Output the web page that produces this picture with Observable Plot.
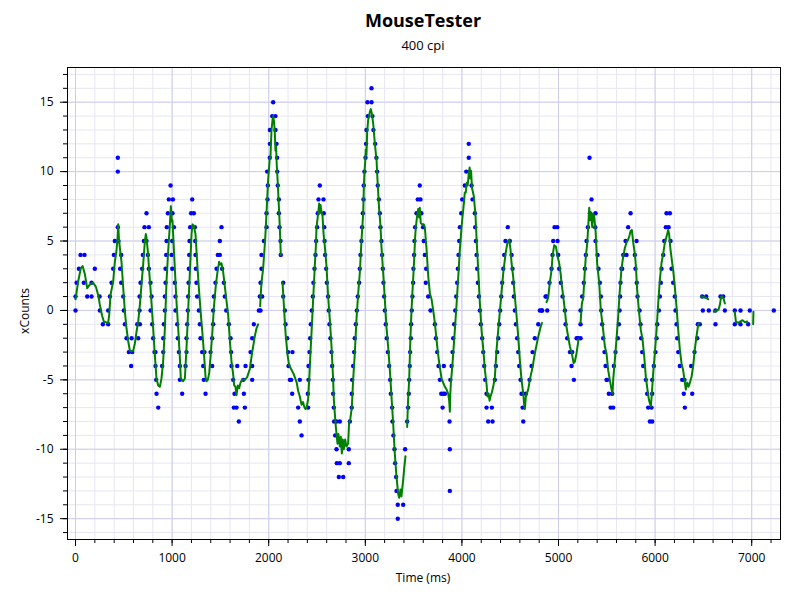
<!DOCTYPE html>
<html><head><meta charset="utf-8">
<script src="https://cdn.jsdelivr.net/npm/d3@7"></script>
<script src="https://cdn.jsdelivr.net/npm/@observablehq/plot@0.6"></script>
<style>
body{margin:0;background:#fff;font-family:"Open Sans",sans-serif;}
#wrap{position:relative;width:800px;height:600px;overflow:hidden;}
.t{position:absolute;white-space:nowrap;color:#000;line-height:1;transform:translate(-50%,-50%);}
#chart{position:absolute;left:0;top:0;}
</style></head><body>
<div id="wrap">
<div id="chart"></div>
<div class="t" style="left:423px;top:20px;font-weight:bold;font-size:18px;">MouseTester</div>
<div class="t" style="left:423px;top:45px;font-size:13px;">400 cpi</div>
<div class="t" style="left:423px;top:578px;font-size:12px;">Time (ms)</div>
<div class="t" style="left:25px;top:311px;font-size:12px;transform:translate(-50%,-50%) rotate(-90deg);">xCounts</div>
</div>
<script>
// ---- data: [time ms, xCounts] raw samples (blue dots) ----
const samples = [
[0,0],[0,1],[11,2],[35,3],[52,4],[86,2],[93,4],[121,1],[166,1],[166,2],[200,3],[249,1],[252,0],[283,-1],[338,-1],[338,0],[356,1],[373,2],[390,3],[397,4],[407,5],[438,6],[438,10],[438,11],[445,5],[462,3],[473,4],[473,2],[494,1],[500,0],[511,-1],[528,-2],[552,-3],[576,-4],[580,-2],[587,-3],[639,-1],[649,-2],[663,0],[663,1],[666,-1],[673,2],[690,3],[697,4],[708,5],[714,6],[735,7],[735,5],[749,4],[759,6],[759,3],[776,2],[777,0],[787,1],[794,-1],[804,-2],[818,-3],[828,-3],[828,-4],[835,-5],[839,-6],[856,-7],
[897,-4],[908,-3],[908,-2],[915,-1],[925,0],[925,1],[932,2],[932,3],[939,4],[942,5],[945,6],[956,7],[966,8],[984,9],[1008,8],[1004,7],[1018,6],[1001,5],[994,4],[1001,3],[1028,2],[1035,1],[1035,0],[1053,-1],[1059,-2],[1070,-3],[1080,-4],[1080,-5],[1104,-6],
[1139,-4],[1149,-3],[1149,-2],[1156,-1],[1163,0],[1166,1],[1170,2],[1173,3],[1177,4],[1180,5],[1187,6],[1197,7],[1208,8],[1225,7],[1235,6],[1239,5],[1242,4],[1246,3],[1252,2],[1259,1],[1277,0],[1287,-1],[1294,-2],[1311,-3],[1322,-4],[1328,-5],[1335,-3],[1346,-6],
[1398,-3],[1415,-4],[1415,-2],[1425,-1],[1425,0],[1432,1],[1449,2],[1460,3],[1473,4],[1494,4],[1494,5],[1511,6],[1518,3],[1536,2],[1546,1],[1560,0],[1587,-1],[1605,-2],[1611,-3],[1615,-4],[1632,-5],[1639,-7],[1646,-6],[1667,-7],[1674,-4],[1691,-8],[1736,-5],[1743,-6],[1753,-7],[1760,-4],[1812,-3],[1829,-2],[1829,-4],[1829,-5],[1846,-1],[1898,0],[1915,0],
[1908,1],[1915,2],[1925,3],[1925,4],[1932,1],[1950,5],[1977,6],[1977,7],[1987,8],[1991,9],[1984,10],[2011,11],[2012,12],[2012,13],[2036,14],[2046,15],[2070,14],[2070,13],[2081,12],[2087,11],[2088,10],[2094,9],[2105,8],[2105,7],[2112,6],[2122,5],[2125,4],[2150,2],[2150,1],
[2167,0],[2174,-1],[2191,-2],[2201,-3],[2205,-4],[2219,-5],[2232,-5],[2243,-6],[2246,-3],[2305,-7],[2322,-8],[2322,-5],[2340,-9],[2405,-6],[2408,-7],[2412,-5],[2412,-4],[2422,-3],[2429,-2],[2436,-1],[2446,0],
[2457,1],[2463,2],[2474,3],[2484,4],[2491,5],[2501,6],[2508,7],[2515,8],[2529,9],[2567,8],[2570,7],[2574,6],[2578,5],[2584,4],[2595,3],[2602,2],[2615,1],[2622,0],[2629,-1],[2639,-2],[2650,-3],[2657,-4],[2664,-5],[2667,-6],[2674,-7],[2677,-8],[2688,-9],[2702,-10],[2705,-11],[2702,-8],[2726,-12],[2736,-8],[2736,-11],[2771,-12],[2829,-11],[2829,-10],[2840,-8],[2860,-7],[2860,-6],
[2864,-5],[2874,-4],[2884,-3],[2891,-2],[2902,-1],[2912,0],[2922,1],[2936,2],[2943,3],[2950,4],[2960,5],[2967,6],[2974,7],[2981,8],[2984,9],[2991,10],[3002,11],[3008,12],[3012,13],[3026,14],[3022,15],[3064,15],[3064,16],[3074,14],[3084,13],[3102,12],[3115,11],[3122,10],[3129,9],[3140,8],[3150,7],[3157,6],[3167,5],[3174,4],[3181,3],[3188,2],[3195,1],[3202,0],[3212,-1],[3222,-2],[3233,-3],[3247,-4],[3257,-5],[3264,-6],[3278,-7],[3281,-8],[3291,-9],[3302,-10],[3309,-11],[3319,-12],[3323,-13],[3336,-14],[3336,-15],[3392,-14],[3412,-10],
[3433,-8],[3443,-7],[3450,-6],[3454,-5],[3460,-4],[3464,-3],[3471,-2],[3474,-1],[3481,0],[3488,1],[3495,2],[3498,3],[3505,4],[3509,5],[3516,6],[3530,7],[3543,8],[3571,8],[3564,9],[3580,7],[3598,6],[3605,5],[3616,4],[3626,2],[3630,3],
[3651,1],[3675,0],[3720,-1],[3731,-2],[3744,-3],[3758,-4],[3772,-5],[3786,-6],[3800,-7],[3807,-6],[3813,-4],[3824,-6],[3872,-8],[3875,-10],[3875,-13],[3880,-5],[3893,-4],[3903,-3],[3910,-2],[3920,-1],[3931,0],[3941,1],[3951,2],[3958,3],[3965,4],[3972,5],[3979,6],[3993,7],[4003,8],[4030,9],[4045,10],[4071,11],[4071,12],[4082,10],[4100,9],[4110,8],[4134,7],[4138,6],[4145,5],[4152,4],[4158,3],[4165,2],[4176,1],[4186,0],[4196,-1],[4210,-2],[4221,-3],[4231,-4],[4241,-5],[4255,-6],[4255,-7],[4272,-8],[4310,-7],[4317,-8],
[4341,-5],[4352,-4],[4365,-3],[4376,-2],[4386,-1],[4396,0],[4407,1],[4417,2],[4428,3],[4438,4],[4451,5],[4475,6],[4496,5],[4514,4],[4524,3],[4531,2],[4538,1],[4548,0],[4559,-1],[4572,-2],[4583,-3],[4593,-4],[4607,-5],[4617,-6],[4628,-7],[4635,-8],[4662,-6],[4700,-5],[4721,-4],[4731,-3],[4755,-2],[4790,-1],[4807,0],[4824,0],[4831,0],[4866,1],[4876,1],
[4883,0],[4907,2],[4928,3],[4938,4],[4945,5],[4959,6],[4987,6],[4990,5],[4997,4],[5007,3],[5024,2],[5042,1],[5066,0],[5073,-1],[5090,-2],[5118,-3],[5142,-3],[5135,-4],[5159,-5],[5187,-2],[5204,-2],[5228,-2],[5228,-1],[5228,0],
[5245,1],[5262,2],[5273,3],[5283,4],[5290,5],[5304,6],[5321,11],[5325,7],[5342,8],[5383,7],[5380,6],[5383,5],[5404,4],[5414,3],[5428,2],[5439,1],[5442,0],[5452,-1],[5463,-2],[5476,-3],[5487,-4],[5497,-5],[5504,-5],
[5521,-6],[5539,-7],[5556,-6],[5566,-7],[5573,-4],[5590,-3],[5614,-2],[5625,-1],[5632,0],[5638,1],[5642,2],[5652,3],[5659,3],[5670,4],[5694,5],[5704,4],[5721,6],[5746,7],[5790,4],[5797,3],[5808,5],[5810,2],[5818,1],[5839,0],[5849,-1],[5856,-2],[5866,-3],[5877,-4],[5904,-5],[5918,-6],[5928,-7],[5946,-8],[5970,-8],[5963,-7],[5970,-6],[5970,-5],[5987,-4],[6004,-3],[6015,-2],[6022,-1],[6039,0],[6049,1],[6059,2],[6066,3],[6084,4],[6095,5],[6111,6],[6118,7],[6153,7],[6140,6],[6160,5],[6170,3],[6187,2],[6204,1],[6211,0],[6222,-1],[6229,-2],[6239,-3],[6256,-4],[6280,-5],[6304,-5],[6297,-6],[6308,-7],[6384,-6],[6373,-4],[6408,-3],[6436,-2],[6442,-1],[6463,-1],[6487,1],[6494,0],[6529,1],[6556,0],[6625,-1],[6625,0],[6677,1],[6705,1],[6722,0],[6825,0],[6825,-1],[6884,-1],[6884,0],[6963,-1],[6980,0],[7229,0]
];
// ---- green trace: [time ms, value]; null marks a break ----
const smoothed = [
[0,0.8],[28,2.1],[55,3.05],[73,3.2],[97,2.6],[121,1.6],[140,1.8],[155,1.9],[183,2.0],[211,1.7],[235,1.1],[252,0.4],[276,-0.4],[293,-0.8],[314,-0.85],[338,-0.9],[349,-0.3],[362,1.1],[390,2.1],[407,3.5],[424,4.3],[435,5.2],[442,6.2],[449,5.2],[459,4.5],[476,3.5],[494,1.6],[511,-0.1],[528,-1.3],[545,-2.2],[563,-2.9],[580,-2.96],[597,-2.9],[614,-2.4],[632,-1.5],[649,-0.8],[666,0.4],[683,1.85],[700,3.3],[718,5.0],[728,5.5],[735,5.2],[749,4.25],[763,2.8],[776,1.6],[790,0.2],[804,-1.3],[821,-3.2],[838,-4.9],[856,-5.4],[873,-5.5],[890,-4.9],[907,-3.7],[925,-1.3],[942,2.1],[959,4.25],[977,6.2],[987,7.5],[997,6.4],[1004,6.5],[1014,5.0],[1028,3.05],[1045,0.65],[1063,-1.3],[1080,-3.4],[1090,-4.9],[1114,-5.1],[1132,-4.9],[1149,-2.7],[1166,0],[1183,2.6],[1201,5.5],[1211,6.2],[1225,6.1],[1242,5.5],[1259,3.5],[1277,1.6],[1294,0],[1315,-1.75],[1328,-2.95],[1346,-4.8],[1356,-5.1],[1370,-5.0],[1384,-4.5],[1397,-3.4],[1415,-1.75],[1432,0.2],[1453,1.85],[1470,2.8],[1487,3.5],[1497,3.3],[1511,3.4],[1528,2.8],[1556,1.1],[1580,-0.3],[1598,-2.2],[1615,-3.7],[1632,-4.6],[1642,-5.4],[1656,-5.5],[1667,-6.1],[1680,-5.4],[1694,-5.6],[1708,-5.2],[1725,-5.0],[1753,-5.0],[1777,-4.8],[1805,-4.2],[1829,-3.0],[1855,-1.9],[1873,-1.3],[1890,-1.0],[1900,null],
[1911,0.3],[1925,2.0],[1942,3.0],[1953,4.1],[1963,5.1],[1970,6.0],[1977,7.0],[1984,8.0],[1994,9.4],[2005,10.4],[2011,11.0],[2018,11.0],[2022,11.8],[2029,13.0],[2039,13.7],[2046,14.0],[2055,13.6],[2063,12.8],[2070,11.5],[2076,11.8],[2083,10.5],[2095,9.0],[2105,7.5],[2115,6.0],[2125,4.0],[2134,null],
[2143,2.0],[2160,0.0],[2175,-1.7],[2195,-3.2],[2210,-3.9],[2230,-4.2],[2253,-4.5],[2275,-4.9],[2290,-5.2],[2305,-5.8],[2322,-6.2],[2340,-6.8],[2355,-6.6],[2370,-7.0],[2382,-7.1],[2395,-6.9],[2408,-6.4],[2419,-5.0],[2432,-3.1],[2446,-1.2],[2460,0.8],[2477,3.2],[2488,4.6],[2495,6.0],[2512,7.0],[2522,7.7],[2530,7.0],[2536,7.6],[2546,7.1],[2557,6.8],[2568,5.5],[2581,4.6],[2598,3.2],[2615,1.0],[2633,-0.7],[2650,-2.6],[2660,-4.0],[2667,-5.0],[2674,-6.4],[2684,-7.4],[2695,-8.4],[2702,-8.9],[2712,-9.6],[2722,-8.9],[2736,-9.8],[2746,-9.1],[2757,-10.3],[2767,-9.3],[2777,-10.0],[2791,-9.3],[2805,-9.8],[2822,-9.6],[2832,-8.1],[2845,-7.8],[2860,-7.0],[2874,-5.0],[2891,-3.1],[2908,-0.7],[2926,1.2],[2943,2.7],[2960,5.0],[2978,7.0],[2984,8.7],[2991,10.0],[2998,10.6],[3005,11.6],[3012,11.2],[3019,12.8],[3029,13.7],[3047,14.3],[3057,14.5],[3067,14.2],[3081,13.5],[3098,12.1],[3109,11.3],[3116,10.9],[3126,9.4],[3143,7.3],[3157,6.1],[3167,4.6],[3185,2.7],[3202,0.8],[3219,-1.2],[3236,-2.6],[3254,-4.3],[3271,-6.2],[3288,-8.1],[3305,-10.3],[3323,-12.0],[3340,-13.2],[3350,-13.5],[3364,-12.9],[3374,-13.4],[3392,-12.2],[3405,-11.2],[3416,-10.5],[3425,null],
[3433,-8.4],[3443,-6.4],[3454,-5.0],[3464,-2.6],[3474,-0.7],[3485,1.0],[3495,2.2],[3505,3.6],[3516,5.3],[3523,6.0],[3536,6.8],[3547,7.3],[3557,6.7],[3564,7.4],[3574,6.3],[3588,6.2],[3605,6.2],[3616,6.0],[3634,4.4],[3651,2.5],[3669,1.2],[3686,0.8],[3703,0.0],[3720,-0.9],[3737,-2.1],[3751,-3.0],[3765,-3.8],[3789,-4.9],[3806,-5.2],[3824,-5.5],[3841,-5.7],[3858,-6.0],[3868,-6.5],[3875,-7.3],[3880,-6.0],[3886,-5.2],[3903,-3.8],[3927,-1.4],[3945,0.5],[3962,2.4],[3979,4.4],[3996,6.0],[4010,7.0],[4020,7.7],[4030,8.5],[4040,8.5],[4050,9.2],[4060,9.0],[4070,9.8],[4080,10.3],[4088,9.5],[4095,10.0],[4105,8.8],[4115,8.5],[4124,8.2],[4141,6.8],[4152,5.1],[4169,2.9],[4186,0.5],[4203,-1.4],[4221,-2.8],[4238,-4.3],[4255,-5.3],[4265,-6.2],[4276,-6.0],[4286,-6.5],[4296,-6.2],[4310,-5.9],[4324,-5.5],[4341,-4.8],[4359,-2.8],[4376,-1.4],[4400,0.5],[4428,2.7],[4452,4.1],[4469,4.8],[4480,5.0],[4490,5.1],[4503,4.4],[4514,3.4],[4531,2.4],[4548,1.0],[4566,-0.4],[4583,-1.9],[4600,-3.6],[4617,-5.0],[4635,-6.0],[4645,-6.8],[4652,-7.1],[4662,-6.2],[4686,-5.7],[4703,-5.0],[4731,-4.1],[4755,-3.1],[4790,-1.9],[4814,-1.2],[4828,-0.9],[4850,null],
[4876,0.6],[4893,0.9],[4910,2.0],[4928,2.9],[4938,3.9],[4955,4.7],[4973,4.6],[4990,3.9],[5007,3.4],[5021,2.7],[5031,2.0],[5049,1.0],[5066,0.0],[5083,-1.2],[5100,-1.9],[5118,-2.6],[5138,-3.1],[5156,-3.8],[5169,-3.7],[5186,-3.1],[5207,-2.1],[5217,null],
[5228,-0.9],[5242,0.5],[5256,0.9],[5273,2.9],[5283,3.9],[5297,4.8],[5307,6.0],[5318,7.4],[5328,6.5],[5338,7.0],[5349,6.0],[5359,7.0],[5369,6.8],[5383,5.8],[5400,3.4],[5421,2.0],[5438,0.0],[5462,-1.4],[5480,-2.6],[5497,-3.1],[5514,-4.3],[5531,-5.0],[5549,-5.7],[5559,-6.0],[5566,-5.0],[5583,-3.6],[5600,-2.1],[5618,-0.4],[5635,1.5],[5652,3.0],[5670,3.9],[5687,4.5],[5704,4.9],[5721,5.1],[5735,5.4],[5745,5.7],[5759,5.8],[5773,4.9],[5790,4.1],[5801,3.2],[5814,1.5],[5832,0.0],[5852,-1.4],[5870,-2.1],[5887,-3.3],[5904,-4.8],[5921,-5.7],[5935,-6.4],[5946,-6.7],[5956,-6.9],[5966,-6.0],[5980,-4.5],[5997,-3.1],[6015,-1.4],[6032,0.5],[6049,2.2],[6066,3.4],[6084,4.1],[6101,4.9],[6118,5.3],[6135,5.8],[6145,5.5],[6159,4.4],[6177,3.4],[6187,2.9],[6204,1.7],[6221,0.3],[6239,-1.4],[6256,-2.8],[6273,-3.8],[6290,-4.3],[6308,-5.2],[6318,-5.7],[6332,-5.2],[6346,-5.5],[6360,-5.2],[6377,-4.8],[6394,-4.0],[6411,-2.8],[6428,-1.9],[6446,-1.0],[6463,-0.9],[6470,null],
[6480,1.0],[6505,0.95],[6532,0.9],[6549,0.8],[6580,null],
[6608,-0.1],[6635,0.0],[6656,0.05],[6670,0.4],[6684,1.0],[6698,1.0],[6711,0.8],[6722,0.5],[6780,null],
[6825,-0.1],[6836,-0.8],[6860,-0.9],[6880,-0.8],[6905,-0.7],[6930,-0.85],[6953,-0.8],[6990,null],
[7015,-1.0],[7018,-0.1]
];
// ---- axis ticks ----
const xTicks = [0,1000,2000,3000,4000,5000,6000,7000];
const yTicks = [-15,-10,-5,0,5,10,15];
const xMinor = d3.range(0, 7300, 200);
const yMinor = d3.range(-16, 18, 1);

const chart = Plot.plot({
  width: 800, height: 600,
  marginLeft: 67, marginRight: 20, marginTop: 67, marginBottom: 61,
  x: {domain: [-83, 7298]},
  y: {domain: [-16.5, 17.5]},
  style: {fontFamily: "'Open Sans', sans-serif", fontSize: "12px", color: "#000", background: "#fff", overflow: "visible"},
  marks: [
    Plot.ruleX(xMinor, {stroke: "#e6e6f5", strokeOpacity: 1}),
    Plot.ruleY(yMinor, {stroke: "#e6e6f5", strokeOpacity: 1}),
    Plot.ruleX(xTicks, {stroke: "#cdcdee", strokeOpacity: 1}),
    Plot.ruleY(yTicks, {stroke: "#cdcdee", strokeOpacity: 1}),
    Plot.axisX(xMinor, {tickSize: 4, tickFormat: () => "", label: null}),
    Plot.axisX(xTicks, {tickSize: 7, tickPadding: 7, tickFormat: d => String(d), label: null}),
    Plot.axisY(yMinor, {tickSize: 4, tickFormat: () => "", label: null}),
    Plot.axisY(yTicks, {tickSize: 7, tickPadding: 7, tickFormat: d => String(d), label: null}),
    Plot.dot(samples, {x: d => d[0], y: d => d[1], r: 2.2, fill: "#0000ff", stroke: null}),
    Plot.line(smoothed, {x: d => d[0], y: d => d[1], stroke: "#008000", strokeWidth: 2}),
    Plot.frame({stroke: "#000", strokeWidth: 1})
  ]
});
document.getElementById("chart").appendChild(chart);
</script>
</body></html>
